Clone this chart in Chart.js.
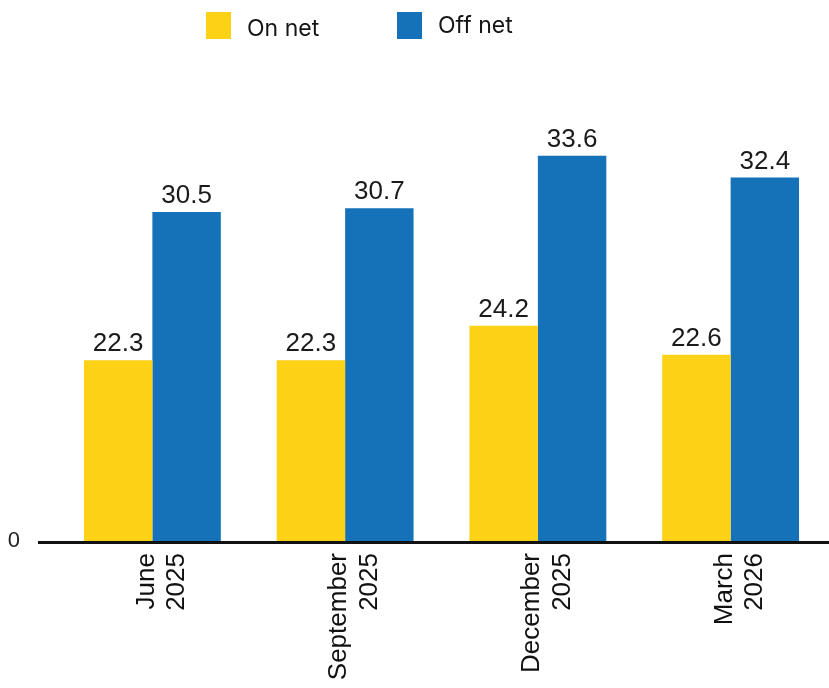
<!DOCTYPE html>
<html>
<head>
<meta charset="utf-8">
<script src="https://cdn.jsdelivr.net/npm/chart.js@4.4.1/dist/chart.umd.min.js"></script>
<style>
  html, body { margin: 0; padding: 0; background: #ffffff; }
  #wrap { width: 829px; height: 688px; position: relative; }
</style>
</head>
<body>
<div id="wrap"><canvas id="c"></canvas></div>
<script>
// ---- data ----
const categories = [["June", "2025"], ["September", "2025"], ["December", "2025"], ["March", "2026"]];
const seriesNames = ["On net", "Off net"];
const onNet = [22.3, 22.3, 24.2, 22.6];
const offNet = [30.5, 30.7, 33.6, 32.4];
const yTickLabels = ["0"];

// ---- styles ----
const YELLOW = "#FCD116";
const BLUE = "#1571B8";
const LABEL_FONT = "'Liberation Sans', Arial, sans-serif";
const LEGEND_FONT = "Inter, 'Open Sans', sans-serif";

const valueLabels = {
  id: "valueLabels",
  afterDatasetsDraw(chart) {
    const ctx = chart.ctx;
    ctx.save();
    ctx.font = "26px " + LABEL_FONT;
    ctx.fillStyle = "#1a1a1a";
    ctx.textAlign = "center";
    ctx.textBaseline = "alphabetic";
    chart.data.datasets.forEach((ds, di) => {
      const meta = chart.getDatasetMeta(di);
      meta.data.forEach((el, i) => {
        ctx.fillText(ds.data[i].toFixed(1), el.x, el.y - 9);
      });
    });
    // baseline axis line
    const y = chart.chartArea.bottom + 1.5;
    ctx.strokeStyle = "#111111";
    ctx.lineWidth = 3;
    ctx.beginPath();
    ctx.moveTo(38, y);
    ctx.lineTo(chart.width, y);
    ctx.stroke();
    ctx.restore();
  }
};

const customLegend = {
  id: "customLegend",
  afterDraw(chart) {
    const ctx = chart.ctx;
    const items = [
      { box: [206, 12, 25, 27], text: [247, 36] },
      { box: [397, 12, 25, 27], text: [438, 33] }
    ];
    ctx.save();
    ctx.font = "23px " + LEGEND_FONT;
    ctx.textAlign = "left";
    ctx.textBaseline = "alphabetic";
    chart.data.datasets.forEach((ds, i) => {
      const it = items[i];
      ctx.fillStyle = ds.backgroundColor;
      ctx.fillRect(it.box[0], it.box[1], it.box[2], it.box[3]);
      ctx.fillStyle = "#141414";
      ctx.fillText(ds.label, it.text[0], it.text[1]);
    });
    ctx.restore();
  }
};

new Chart(document.getElementById("c"), {
  type: "bar",
  data: {
    labels: categories,
    datasets: [
      { label: seriesNames[0], data: onNet, backgroundColor: YELLOW, borderWidth: 0 },
      { label: seriesNames[1], data: offNet, backgroundColor: BLUE, borderWidth: 0 }
    ]
  },
  options: {
    responsive: true,
    maintainAspectRatio: false,
    animation: false,
    layout: { padding: { top: 60, left: 8, right: 2, bottom: 0 } },
    plugins: {
      legend: { display: false },
      tooltip: { enabled: false }
    },
    datasets: {
      bar: { categoryPercentage: 0.71, barPercentage: 1.0 }
    },
    scales: {
      x: {
        grid: { display: false, drawTicks: false },
        border: { display: false },
        ticks: {
          minRotation: 90,
          maxRotation: 90,
          autoSkip: false,
          padding: 12,
          labelOffset: -6,
          color: "#111111",
          font: { family: LABEL_FONT, size: 26, lineHeight: 1.18 }
        },
        afterFit(s) { s.height = 147; }
      },
      y: {
        min: 12.3,
        max: 38.9,
        grid: { display: false, drawTicks: false },
        border: { display: false },
        afterBuildTicks(s) { s.ticks = [{ value: s.min }]; },
        ticks: {
          padding: 36,
          color: "#222222",
          font: { family: LABEL_FONT, size: 22 },
          callback: () => yTickLabels[0]
        },
        afterFit(s) { s.width = 48; }
      }
    }
  },
  plugins: [valueLabels, customLegend]
});
</script>
</body>
</html>
